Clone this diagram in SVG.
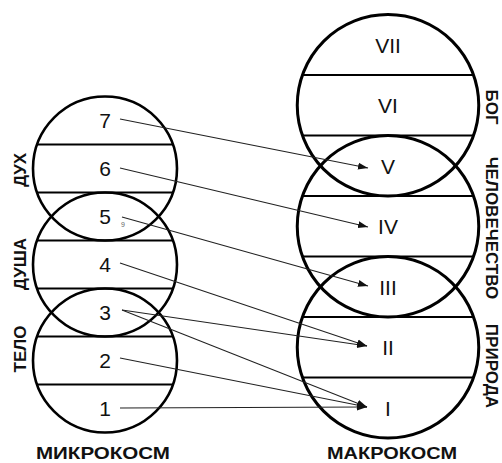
<svg xmlns="http://www.w3.org/2000/svg" width="502" height="463" viewBox="0 0 502 463">
<style>
.c{fill:none;stroke:#000;stroke-width:3}
.cl{fill:none;stroke:#000;stroke-width:2.6}
.h{stroke:#000;stroke-width:1.8}
.n{font-family:"Liberation Sans",Arial,sans-serif;font-size:21px;text-anchor:middle;fill:#111}
.lab{font-family:"Liberation Sans",Arial,sans-serif;font-size:17px;font-weight:bold;text-anchor:middle;fill:#111}
.con line{stroke:#222;stroke-width:1.1;marker-end:url(#ah)}
</style>
<defs>
<marker id="ah" markerUnits="userSpaceOnUse" markerWidth="12" markerHeight="10" refX="10" refY="5" orient="auto">
<path d="M0,1.5 L10,5 L0,8.5 Z" fill="#111"/>
</marker>
</defs>
<rect width="502" height="463" fill="#fff"/>

<g id="micro">
<circle class="cl" cx="105" cy="168.5" r="72"/>
<circle class="cl" cx="105" cy="264.5" r="72"/>
<circle class="cl" cx="105" cy="360.5" r="72"/>
<line class="h" x1="37" y1="144.5" x2="173" y2="144.5"/>
<line class="h" x1="37" y1="192.5" x2="173" y2="192.5"/>
<line class="h" x1="37" y1="240.5" x2="173" y2="240.5"/>
<line class="h" x1="37" y1="288.5" x2="173" y2="288.5"/>
<line class="h" x1="37" y1="336.5" x2="173" y2="336.5"/>
<line class="h" x1="37" y1="384.5" x2="173" y2="384.5"/>
<text class="n" x="105" y="128">7</text>
<text class="n" x="105" y="176">6</text>
<text class="n" x="105" y="224">5</text>
<text class="n" x="105" y="272">4</text>
<text class="n" x="105" y="320">3</text>
<text class="n" x="105" y="368">2</text>
<text class="n" x="105" y="416">1</text>
<text x="123" y="227" font-family="Liberation Sans,Arial,sans-serif" font-size="7" fill="#666" text-anchor="middle">9</text>
</g>

<g id="macro">
<circle class="c" cx="388" cy="105.25" r="90.75"/>
<circle class="c" cx="388" cy="226.25" r="90.75"/>
<circle class="c" cx="388" cy="347.25" r="90.75"/>
<line class="h" x1="302.5" y1="75" x2="473.5" y2="75"/>
<line class="h" x1="302.5" y1="135.5" x2="473.5" y2="135.5"/>
<line class="h" x1="302.5" y1="196" x2="473.5" y2="196"/>
<line class="h" x1="302.5" y1="256.5" x2="473.5" y2="256.5"/>
<line class="h" x1="302.5" y1="317" x2="473.5" y2="317"/>
<line class="h" x1="302.5" y1="377.5" x2="473.5" y2="377.5"/>
<text class="n" x="388" y="52.5">VII</text>
<text class="n" x="388" y="113">VI</text>
<text class="n" x="388" y="173.5">V</text>
<text class="n" x="388" y="234">IV</text>
<text class="n" x="388" y="294.5">III</text>
<text class="n" x="388" y="355">II</text>
<text class="n" x="388" y="415.5">I</text>
</g>

<g id="labels-left">
<text class="lab" transform="translate(26,170) rotate(-90)">ДУХ</text>
<text class="lab" transform="translate(26,264) rotate(-90)">ДУША</text>
<text class="lab" transform="translate(26,349) rotate(-90)">ТЕЛО</text>
</g>
<g id="labels-right">
<text class="lab" transform="translate(486,107) rotate(90)">БОГ</text>
<text class="lab" transform="translate(486,228) rotate(90)">ЧЕЛОВЕЧЕСТВО</text>
<text class="lab" transform="translate(486,366) rotate(90)">ПРИРОДА</text>
</g>
<g id="titles">
<text class="lab" x="103" y="459" font-size="16" textLength="134" lengthAdjust="spacingAndGlyphs">МИКРОКОСМ</text>
<text class="lab" x="392" y="459" font-size="16" textLength="130" lengthAdjust="spacingAndGlyphs">МАКРОКОСМ</text>
</g>

<g id="connectors" class="con">
<line x1="120" y1="119" x2="368" y2="168"/>
<line x1="120" y1="168" x2="368" y2="227"/>
<line x1="122" y1="217" x2="368" y2="286"/>
<line x1="120" y1="263" x2="367" y2="346"/>
<line x1="122" y1="310" x2="367" y2="346"/>
<line x1="122" y1="310" x2="367" y2="407"/>
<line x1="120" y1="358" x2="367" y2="407"/>
<line x1="120" y1="408" x2="367" y2="407"/>
</g>
</svg>
